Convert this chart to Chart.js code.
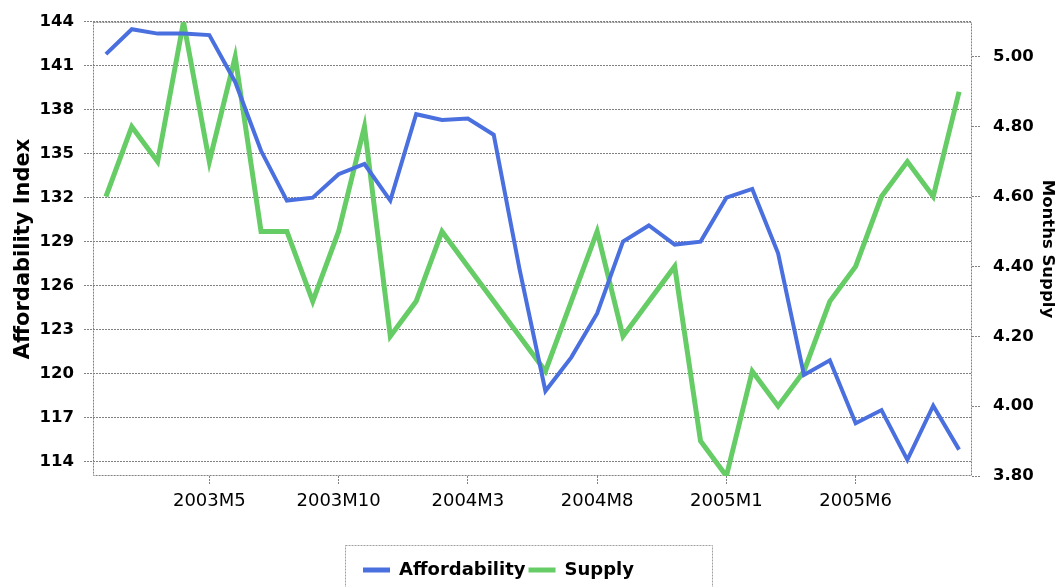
<!DOCTYPE html>
<html>
<head>
<meta charset="utf-8">
<script src="https://cdn.jsdelivr.net/npm/chart.js@4/dist/chart.umd.min.js"></script>
<style>
html,body{margin:0;padding:0;background:#fff;overflow:hidden}
canvas{display:block}
</style>
</head>
<body>
<canvas id="c" width="1057" height="589"></canvas>
<script>
const categories = [
  '2003M1','2003M2','2003M3','2003M4','2003M5','2003M6','2003M7','2003M8','2003M9','2003M10','2003M11','2003M12',
  '2004M1','2004M2','2004M3','2004M4','2004M5','2004M6','2004M7','2004M8','2004M9','2004M10','2004M11','2004M12',
  '2005M1','2005M2','2005M3','2005M4','2005M5','2005M6','2005M7','2005M8','2005M9','2005M10'
];
const xTickLabels = ['2003M5','2003M10','2004M3','2004M8','2005M1','2005M6'];
const affordability = [141.8,143.5,143.2,143.2,143.1,139.9,135.2,131.8,132.0,133.6,134.3,131.8,
  137.7,137.3,137.4,136.3,127.1,118.8,121.1,124.1,129.0,130.1,128.8,129.0,
  132.0,132.6,128.2,119.9,120.9,116.6,117.5,114.1,117.8,114.8];
const supply = [4.6,4.8,4.7,5.1,4.7,5.0,4.5,4.5,4.3,4.5,4.8,4.2,
  4.3,4.5,4.4,4.3,4.2,4.1,4.3,4.5,4.2,4.3,4.4,3.9,
  3.8,4.1,4.0,4.1,4.3,4.4,4.6,4.7,4.6,4.9];
const leftTicks = [114,117,120,123,126,129,132,135,138,141,144];
const rightTicks = [3.8,4.0,4.2,4.4,4.6,4.8,5.0];

const GRID = '#808080';
const FONT = "'DejaVu Sans', Arial, sans-serif";

const framePlugin = {
  id: 'framePlugin',
  afterLayout(chart) {
    const lg = chart.legend;
    if (lg) { lg.left -= 30; lg.right -= 30; }
  },
  beforeDatasetsDraw(chart) {
    const {ctx, chartArea: a} = chart;
    ctx.save();
    ctx.strokeStyle = GRID;
    ctx.lineWidth = 1;
    ctx.setLineDash([2, 1]);
    ctx.strokeRect(a.left + 0.5, a.top + 0.5, a.right - a.left - 1, a.bottom - a.top - 1);
    ctx.restore();
  },
  afterDraw(chart) {
    const {ctx} = chart;
    const lg = chart.legend;
    const w = 367;
    const x = Math.round(chart.width / 2 - w / 2) + 0.5;
    const y = Math.round(lg.top - 13) + 0.5;
    ctx.save();
    ctx.strokeStyle = '#a0a0a0';
    ctx.lineWidth = 1;
    ctx.setLineDash([2, 1]);
    ctx.strokeRect(x, y, w, chart.height - y + 10);
    ctx.restore();
  }
};

new Chart(document.getElementById('c'), {
  type: 'line',
  data: {
    labels: categories,
    datasets: [
      {
        label: 'Affordability',
        data: affordability,
        borderColor: '#4a6fde',
        backgroundColor: '#4a6fde',
        borderWidth: 4,
        pointRadius: 0,
        tension: 0,
        fill: false,
        yAxisID: 'y'
      },
      {
        label: 'Supply',
        data: supply,
        borderColor: '#66cc66',
        backgroundColor: '#66cc66',
        borderWidth: 5,
        pointRadius: 0,
        tension: 0,
        fill: false,
        yAxisID: 'y1'
      }
    ]
  },
  options: {
    responsive: false,
    animation: false,
    devicePixelRatio: 1,
    layout: { padding: { top: 20, left: 0, right: 0, bottom: 0 } },
    plugins: {
      tooltip: { enabled: false },
      title: { display: false },
      legend: {
        position: 'bottom',
        align: 'center',
        labels: {
          boxWidth: 27,
          boxHeight: 5,
          padding: 3,
          color: '#000',
          font: { family: FONT, size: 18, weight: 'bold' },
          generateLabels: (chart) => chart.data.datasets.map((d, i) => ({
            text: d.label,
            fillStyle: d.borderColor,
            strokeStyle: d.borderColor,
            lineWidth: 0,
            hidden: false,
            datasetIndex: i
          }))
        }
      }
    },
    scales: {
      x: {
        type: 'category',
        offset: true,
        grid: { drawOnChartArea: false, drawTicks: true, tickLength: 9, color: GRID, tickBorderDash: [2, 1], offset: false },
        border: { display: false },
        ticks: { autoSkip: false, maxRotation: 0, minRotation: 0, padding: 6, color: '#000',
          font: { family: FONT, size: 18 } },
        afterBuildTicks: (s) => { s.ticks = s.ticks.filter(t => xTickLabels.includes(categories[t.value])); },
        afterFit: (s) => { s.height = 82; }
      },
      y: {
        position: 'left',
        min: 113,
        max: 144,
        afterBuildTicks: (s) => { s.ticks = leftTicks.map(v => ({ value: v })); },
        grid: { color: GRID, lineWidth: 1, drawTicks: true, tickLength: 9, tickBorderDash: [2, 1] },
        border: { display: false, dash: [2, 1] },
        ticks: { padding: 10, color: '#000', font: { family: FONT, size: 16.5, weight: 'bold' },
          callback: (v) => String(v) },
        title: { display: true, text: 'Affordability Index', color: '#000',
          font: { family: FONT, size: 21, weight: 'bold' }, padding: { top: 11, bottom: 0 } },
        afterFit: (s) => { s.width = 93; }
      },
      y1: {
        position: 'right',
        min: 3.8,
        max: 5.1,
        afterBuildTicks: (s) => { s.ticks = rightTicks.map(v => ({ value: v })); },
        grid: { drawOnChartArea: false, color: GRID, drawTicks: true, tickLength: 9, tickBorderDash: [2, 1] },
        border: { display: false },
        ticks: { padding: 12, color: '#000', font: { family: FONT, size: 16.5, weight: 'bold' },
          callback: (v) => Number(v).toFixed(2) },
        title: { display: true, text: 'Months Supply', color: '#000',
          font: { family: FONT, size: 16.5, weight: 'bold' }, padding: { top: 0, bottom: 0 } },
        afterFit: (s) => { s.width = 85; }
      }
    }
  },
  plugins: [framePlugin]
});
</script>
</body>
</html>
